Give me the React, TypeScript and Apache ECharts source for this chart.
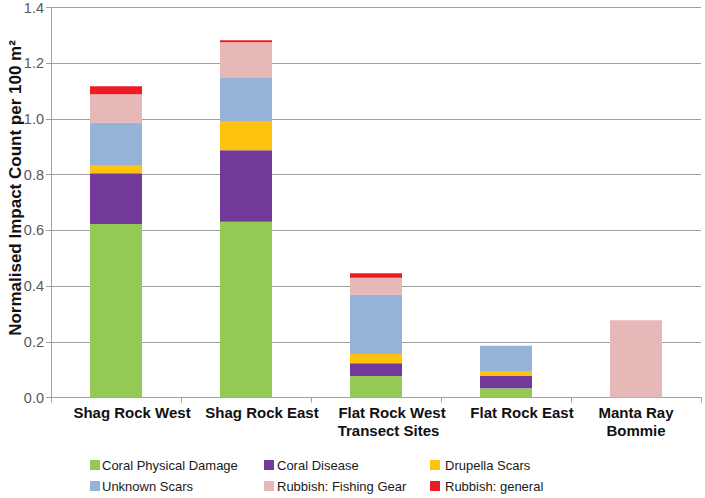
import React, { useEffect, useRef } from "react";
import * as echarts from "echarts";

const categories = [
  "Shag Rock West",
  "Shag Rock East",
  "Flat Rock West\nTransect Sites",
  "Flat Rock East",
  "Manta Ray\nBommie",
];

const seriesNames = [
  "Coral Physical Damage",
  "Coral Disease",
  "Drupella Scars",
  "Unknown Scars",
  "Rubbish: Fishing Gear",
  "Rubbish: general",
];

const coralPhysicalDamage = [0.623, 0.631, 0.077, 0.033, 0];
const coralDisease = [0.182, 0.257, 0.046, 0.044, 0];
const drupellaScars = [0.027, 0.102, 0.033, 0.015, 0];
const unknownScars = [0.154, 0.157, 0.213, 0.094, 0];
const rubbishFishingGear = [0.103, 0.128, 0.061, 0, 0.277];
const rubbishGeneral = [0.028, 0.007, 0.016, 0, 0];

const yTicks = { min: 0, max: 1.4, interval: 0.2 };
const yAxisTitle = "Normalised Impact Count per 100 m²";

const colors = ["#94C954", "#72399A", "#FFC20E", "#95B3D7", "#E6B9B8", "#ED1C24"];

const allValues = [
  coralPhysicalDamage,
  coralDisease,
  drupellaScars,
  unknownScars,
  rubbishFishingGear,
  rubbishGeneral,
];

const FONT = "'Liberation Sans', Arial, sans-serif";

export default function App() {
  const ref = useRef<HTMLDivElement>(null);
  useEffect(() => {
    if (!ref.current) return;
    const chart = echarts.init(ref.current, undefined, { renderer: "svg" });
    const legendCommon = (textPad: number) => ({
      orient: "vertical" as const,
      top: 457,
      padding: 0,
      itemWidth: 10,
      itemHeight: 10,
      itemGap: 5,
      icon: "rect",
      textStyle: {
        fontFamily: FONT,
        fontSize: 13,
        color: "#1a1a1a",
        lineHeight: 16,
        padding: [0, 0, 0, textPad],
      },
    });
    const lbl = { fontFamily: FONT, fontWeight: "bold", fontSize: 15, color: "#111", lineHeight: 18 };
    chart.setOption({
      animation: false,
      grid: { left: 51, right: 4, top: 7.5, bottom: 100.5, containLabel: false, outerBoundsMode: "none" },
      graphic: [
        {
          type: "text",
          x: 15,
          y: 188,
          rotation: Math.PI / 2,
          style: {
            text: yAxisTitle,
            fontFamily: FONT,
            fontWeight: "bold",
            fontSize: 17,
            fill: "#111",
            textAlign: "center",
            textVerticalAlign: "middle",
          },
        },
      ],
      legend: [
        { ...legendCommon(-3), left: 90, data: [seriesNames[0], seriesNames[3]] },
        { ...legendCommon(-2), left: 264, data: [seriesNames[1], seriesNames[4]] },
        { ...legendCommon(0), left: 430, data: [seriesNames[2], seriesNames[5]] },
      ],
      xAxis: {
        type: "category",
        data: categories,
        axisLine: { lineStyle: { color: "#a0a0a0", width: 1 } },
        axisTick: { show: true, length: 5, lineStyle: { color: "#a0a0a0" } },
        axisLabel: {
          interval: 0,
          margin: 6,
          ...lbl,
          formatter: (v: string) => {
            if (v.indexOf("Manta") === 0) return "{c|" + v.split("\n").join("}\n{c|") + "}";
            const parts = v.split("\n");
            if (parts.length === 2) return "{s|" + parts[0] + "}\n{t|" + parts[1] + "}";
            return "{s|" + v + "}";
          },
          rich: {
            c: { ...lbl },
            s: { ...lbl, padding: [0, 0, 0, 32] },
            t: { ...lbl, padding: [0, 7, 0, 32] },
          },
        },
      },
      yAxis: {
        type: "value",
        min: yTicks.min,
        max: yTicks.max,
        interval: yTicks.interval,
        axisLine: { show: true, lineStyle: { color: "#a0a0a0" } },
        axisTick: { show: true, length: 5, lineStyle: { color: "#a0a0a0" } },
        splitLine: { lineStyle: { color: "#a0a0a0", width: 1 } },
        axisLabel: {
          margin: 7,
          fontFamily: FONT,
          fontSize: 14.5,
          color: "#595959",
          formatter: (v: number) => v.toFixed(1),
        },
      },
      series: seriesNames.map((name, k) => ({
        name,
        type: "bar",
        stack: "total",
        barWidth: "40%",
        itemStyle: { color: colors[k] },
        data: allValues[k],
      })),
    });
    return () => chart.dispose();
  }, []);
  return <div ref={ref} style={{ width: 705, height: 498, position: "absolute", left: 0, top: 0 }} />;
}
